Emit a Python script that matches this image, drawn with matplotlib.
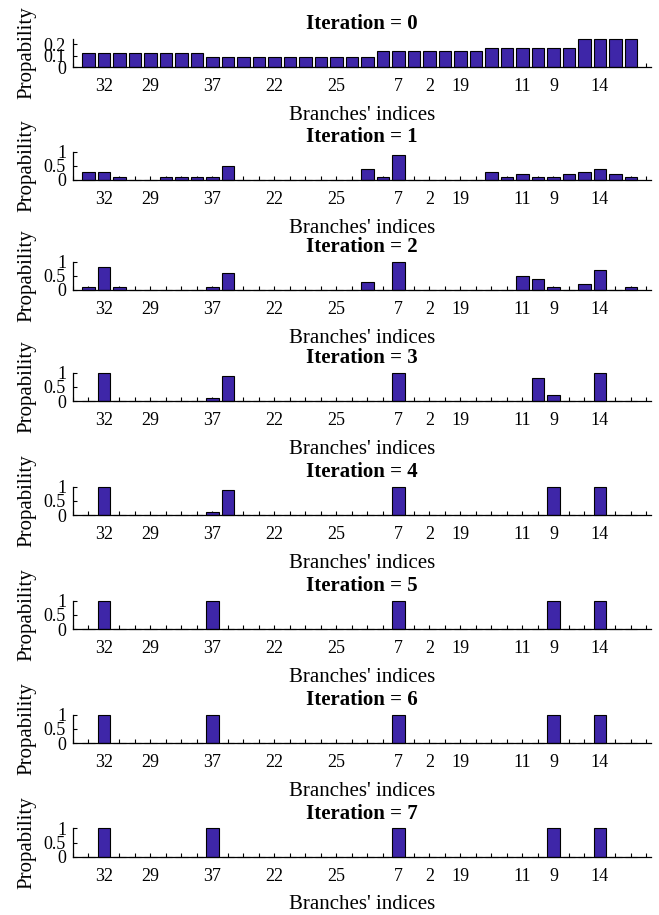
import matplotlib
matplotlib.use('Agg')
import matplotlib.pyplot as plt
import numpy as np

plt.rcParams['font.family'] = ['Liberation Serif', 'DejaVu Serif']

# branch slots on the x axis (36 bars) and the labelled ticks
branch_pos = np.arange(1, 37)
label_pos = [2, 5, 9, 13, 17, 21, 23, 25, 29, 31, 34]
label_txt = ['32', '29', '37', '22', '25', '7', '2', '19', '11', '9', '14']

# probabilities, one list per iteration
it0 = [0.125, 0.125, 0.125, 0.125, 0.125, 0.125, 0.125, 0.125,
       0.091, 0.091, 0.091, 0.091, 0.091, 0.091, 0.091, 0.091, 0.091, 0.091, 0.091,
       0.143, 0.143, 0.143, 0.143, 0.143, 0.143, 0.143,
       0.167, 0.167, 0.167, 0.167, 0.167, 0.167,
       0.25, 0.25, 0.25, 0.25]
it1 = [0.3, 0.3, 0.1, 0, 0, 0.1, 0.1, 0.1,
       0.1, 0.5, 0, 0, 0, 0, 0, 0, 0, 0, 0.4,
       0.1, 0.9, 0, 0, 0, 0, 0,
       0.3, 0.1, 0.2, 0.1, 0.1, 0.2,
       0.3, 0.4, 0.2, 0.1]
it2 = [0.1, 0.8, 0.1, 0, 0, 0, 0, 0,
       0.1, 0.6, 0, 0, 0, 0, 0, 0, 0, 0, 0.3,
       0, 1.0, 0, 0, 0, 0, 0,
       0, 0, 0.5, 0.4, 0.1, 0,
       0.2, 0.7, 0, 0.1]
it3 = [0, 1.0, 0, 0, 0, 0, 0, 0,
       0.1, 0.9, 0, 0, 0, 0, 0, 0, 0, 0, 0,
       0, 1.0, 0, 0, 0, 0, 0,
       0, 0, 0, 0.8, 0.2, 0,
       0, 1.0, 0, 0]
it4 = [0, 1.0, 0, 0, 0, 0, 0, 0,
       0.1, 0.9, 0, 0, 0, 0, 0, 0, 0, 0, 0,
       0, 1.0, 0, 0, 0, 0, 0,
       0, 0, 0, 0, 1.0, 0,
       0, 1.0, 0, 0]
it5 = [0, 1.0, 0, 0, 0, 0, 0, 0,
       1.0, 0, 0, 0, 0, 0, 0, 0, 0, 0, 0,
       0, 1.0, 0, 0, 0, 0, 0,
       0, 0, 0, 0, 1.0, 0,
       0, 1.0, 0, 0]
it6 = list(it5)
it7 = list(it5)
iterations = [it0, it1, it2, it3, it4, it5, it6, it7]

W, H = 659, 915
bottoms = [67, 180, 290, 401, 515, 629, 743, 856.7]  # axis baselines in px from top
ax_h = 28.3
bar_color = '#3E26A8'

tick_lbls = [''] * 38
for p, t in zip(label_pos, label_txt):
    tick_lbls[p] = t

fig = plt.figure(figsize=(W / 100, H / 100), dpi=100)

for k, probs in enumerate(iterations):
    ax = fig.add_axes([73 / W, 1 - bottoms[k] / H, 578 / W, ax_h / H])
    ax.bar(branch_pos, probs, width=0.8, color=bar_color, edgecolor='black',
           linewidth=0.8, zorder=2, clip_on=False)
    ax.set_axisbelow(True)
    ax.set_xlim(0, 37.3)
    ax.set_xticks(np.arange(0, 38))
    ax.set_xticklabels(tick_lbls)
    if k == 0:
        ax.set_ylim(0, 0.25)
        ax.set_yticks([0, 0.1, 0.2])
        ax.set_yticklabels(['0', '0.1', '0.2'])
    else:
        ax.set_ylim(0, 1)
        ax.set_yticks([0, 0.5, 1])
        ax.set_yticklabels(['0', '0.5', '1'])
    ax.spines['top'].set_visible(False)
    ax.spines['right'].set_visible(False)
    ax.spines['left'].set_linewidth(0.9)
    ax.spines['bottom'].set_linewidth(0.9)
    ax.tick_params(axis='both', direction='in', length=3, width=0.8, labelsize=13)
    ax.tick_params(axis='x', pad=8)
    ax.tick_params(axis='y', pad=5)
    ax.set_title('Iteration = %d' % k, fontsize=15, fontweight='bold', pad=7)
    ax.set_xlabel("Branches' indices", fontsize=15, labelpad=7.5)
    ax.set_ylabel('Propability', fontsize=15, labelpad=5)

fig.savefig('out.png', dpi=100)
